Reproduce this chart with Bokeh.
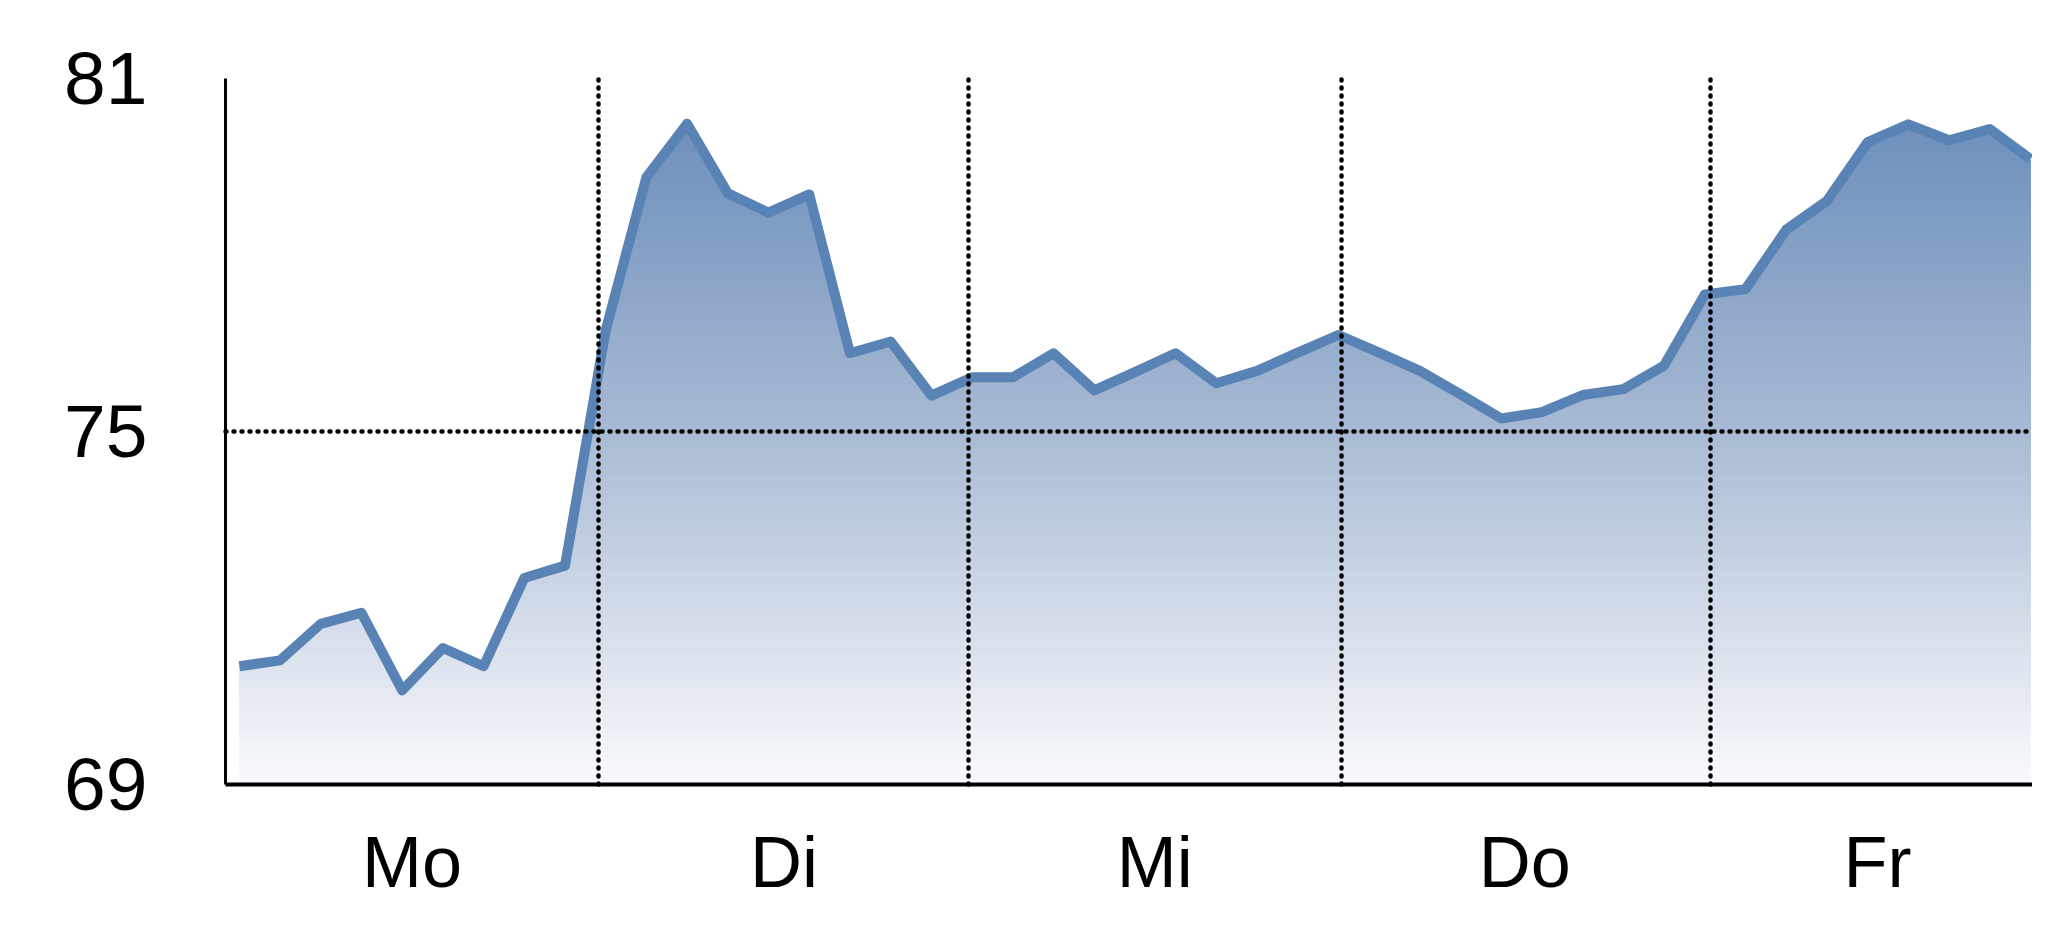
import numpy as np
from bokeh.plotting import figure
from bokeh.models import Range1d, FixedTicker
from bokeh.embed import file_html
from bokeh.resources import INLINE

# ---- data ----
values = [71.01, 71.11, 71.73, 71.92, 70.60, 71.32, 71.01, 72.51, 72.72,
          76.72, 79.32, 80.23, 79.05, 78.72, 79.03, 76.33, 76.53, 75.61,
          75.92, 75.92, 76.33, 75.70, 76.01, 76.33, 75.82, 76.03, 76.34,
          76.64, 76.34, 76.03, 75.63, 75.22, 75.33, 75.62, 75.72, 76.12,
          77.33, 77.42, 78.43, 78.92, 79.92, 80.22, 79.95, 80.14, 79.63]
x_index = list(range(len(values)))

day_labels = ["Mo", "Di", "Mi", "Do", "Fr"]
day_label_pos = [4.24, 13.38, 22.49, 31.58, 40.24]
day_bounds = [8.83, 17.91, 27.08, 36.13]

y_ticks = [69, 75, 81]
y_grid = [75]
y_min, y_max = 69, 81

FONT = "'Liberation Sans Narrow', 'Arial Narrow', 'Liberation Sans', sans-serif"

p = figure(width=2032, height=921, output_backend="svg", toolbar_location=None,
           x_range=Range1d(-0.34, 44.05), y_range=Range1d(y_min, y_max),
           min_border_left=225, min_border_top=78, min_border_right=0,
           min_border_bottom=137)
p.outline_line_color = None
p.background_fill_color = "white"
p.border_fill_color = "white"

# ---- vertical gradient: opaque bands, each painted from its edge upwards ----
grad_stops_y = [69, 75, 81]
grad_stops_rgb = [(249, 250, 252), (168, 186, 212), (100, 137, 184)]
n_bands = 96
edges = np.linspace(y_min, y_max, n_bands + 1)
v_top = max(values)
for k in range(n_bands):
    if edges[k] >= v_top:
        break
    yc = (edges[k] + edges[k + 1]) / 2
    rgb = [np.interp(yc, grad_stops_y, [c[i] for c in grad_stops_rgb]) for i in range(3)]
    col = "#%02x%02x%02x" % tuple(int(round(c)) for c in rgb)
    p.quad(left=x_index[0], right=x_index[-1], bottom=edges[k], top=v_top,
           fill_color=col, line_color=None)

# ---- white mask above the curve (with a white stroke to hide edge fringes) ----
mask_x = x_index + [x_index[-1], x_index[0]]
mask_y = values + [y_max + 1, y_max + 1]
p.patch(mask_x, mask_y, fill_color="white", line_color="white", line_width=3)

# ---- line ----
p.line(x_index, values, line_color="#5a83b5", line_width=10, line_join="round")

# ---- axes ----
p.yaxis.ticker = FixedTicker(ticks=y_ticks)
p.yaxis.axis_line_width = 3
p.yaxis.axis_line_color = "black"
p.yaxis.major_tick_line_color = None
p.yaxis.minor_tick_line_color = None
p.yaxis.major_tick_out = 0
p.yaxis.major_tick_in = 0
p.yaxis.major_label_standoff = 78
p.yaxis.major_label_text_font = FONT
p.yaxis.major_label_text_font_size = "75px"
p.yaxis.major_label_text_color = "black"

p.xaxis.ticker = FixedTicker(ticks=day_label_pos)
p.xaxis.major_label_overrides = {pos: lab for pos, lab in zip(day_label_pos, day_labels)}
p.xaxis.axis_line_width = 4
p.xaxis.axis_line_color = "black"
p.xaxis.major_tick_line_color = None
p.xaxis.minor_tick_line_color = None
p.xaxis.major_tick_out = 0
p.xaxis.major_tick_in = 0
p.xaxis.major_label_standoff = 37
p.xaxis.major_label_text_font = FONT
p.xaxis.major_label_text_font_size = "72px"
p.xaxis.major_label_text_color = "black"

# ---- dotted grid lines on top ----
p.xgrid.ticker = FixedTicker(ticks=day_bounds)
p.ygrid.ticker = FixedTicker(ticks=y_grid)
for g in (p.xgrid, p.ygrid):
    g.grid_line_color = "black"
    g.grid_line_width = 4.5
    g.grid_line_dash = "1 7"
    g.grid_line_cap = "round"
    g.grid_line_alpha = 1.0
    g.level = "annotation"

open("out.html", "w").write(file_html(p, INLINE))
